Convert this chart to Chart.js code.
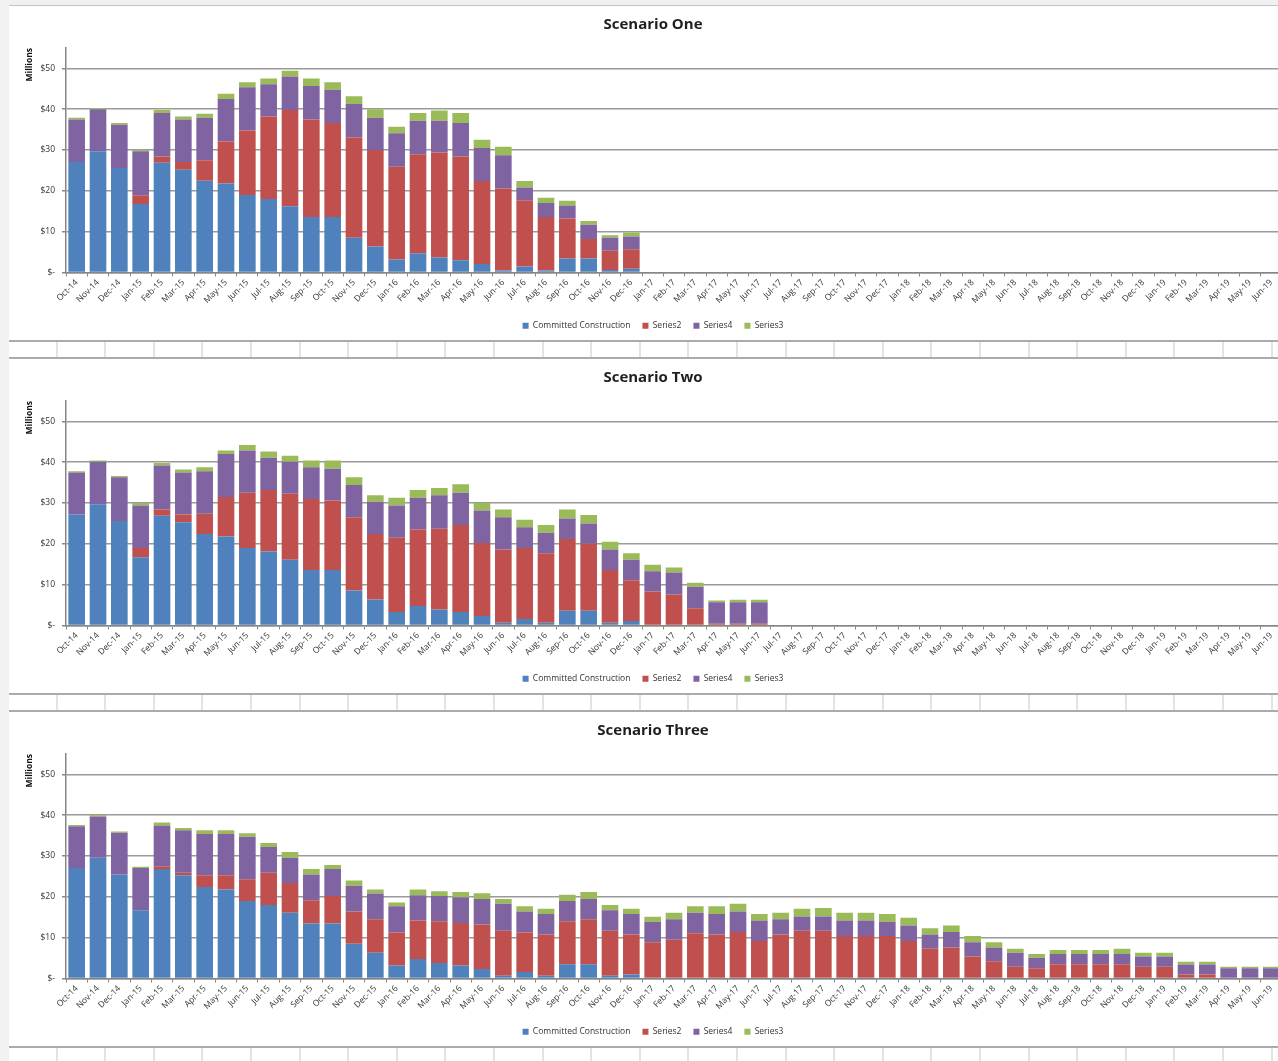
<!DOCTYPE html>
<html>
<head>
<meta charset="utf-8">
<script src="https://cdn.jsdelivr.net/npm/chart.js@4"></script>
<style>
  html, body { margin: 0; padding: 0; width: 1278px; height: 1061px; overflow: hidden; background: #fff; }
  .side { position: absolute; left: 0; top: 0; width: 9px; height: 1061px; background: #f2f2f2; }
  .topbar { position: absolute; left: 9px; top: 0; width: 1269px; height: 5px; background: #f0f0f0; border-bottom: 1px solid #c4c4c4; }
  .strip {
    position: absolute; left: 9px; width: 1269px; box-sizing: border-box;
    border-top: 2px solid #ababab; border-bottom: 2px solid #ababab;
    background: repeating-linear-gradient(to right, #fff 0, #fff 46.6px, #e3e3e3 46.6px, #e3e3e3 48.6px);
  }
  .box { position: absolute; left: 9px; width: 1276px; height: 334px; }
</style>
</head>
<body>
<div class="side"></div>
<div class="topbar"></div>
<div class="box" style="top:6px"><canvas id="chart1" width="1276" height="334"></canvas></div>
<div class="strip" style="top:340px;height:19px"></div>
<div class="box" style="top:359px"><canvas id="chart2" width="1276" height="334"></canvas></div>
<div class="strip" style="top:693px;height:19px"></div>
<div class="box" style="top:712px"><canvas id="chart3" width="1276" height="334"></canvas></div>
<div class="strip" style="top:1046px;height:19px"></div>

<script>
const months = [
  "Oct-14", "Nov-14", "Dec-14",
  "Jan-15", "Feb-15", "Mar-15", "Apr-15", "May-15", "Jun-15", "Jul-15", "Aug-15", "Sep-15", "Oct-15", "Nov-15", "Dec-15",
  "Jan-16", "Feb-16", "Mar-16", "Apr-16", "May-16", "Jun-16", "Jul-16", "Aug-16", "Sep-16", "Oct-16", "Nov-16", "Dec-16",
  "Jan-17", "Feb-17", "Mar-17", "Apr-17", "May-17", "Jun-17", "Jul-17", "Aug-17", "Sep-17", "Oct-17", "Nov-17", "Dec-17",
  "Jan-18", "Feb-18", "Mar-18", "Apr-18", "May-18", "Jun-18", "Jul-18", "Aug-18", "Sep-18", "Oct-18", "Nov-18", "Dec-18",
  "Jan-19", "Feb-19", "Mar-19", "Apr-19", "May-19", "Jun-19"
]

const yTicks = [0, 10, 20, 30, 40, 50]

// Scenario One
const s1Committed = [27.1, 29.7, 25.6, 16.8, 26.9, 25.2, 22.5, 21.8, 19.0, 18.0, 16.2, 13.6, 13.6, 8.5, 6.4,
  3.2, 4.7, 3.7, 3.0, 2.1, 0.5, 1.5, 0.5, 3.4, 3.4, 0.6, 0.9,
  0, 0, 0, 0, 0, 0, 0, 0, 0, 0, 0, 0, 0, 0, 0, 0, 0, 0, 0, 0, 0, 0, 0, 0, 0, 0, 0, 0, 0, 0]
const s1Series2 = [0, 0, 0, 2.1, 1.5, 1.9, 5.0, 10.3, 15.8, 20.2, 23.6, 23.9, 23.0, 24.6, 23.6,
  22.7, 24.3, 25.7, 25.4, 20.3, 20.1, 16.2, 13.1, 9.8, 4.8, 4.7, 4.8,
  0, 0, 0, 0, 0, 0, 0, 0, 0, 0, 0, 0, 0, 0, 0, 0, 0, 0, 0, 0, 0, 0, 0, 0, 0, 0, 0, 0, 0, 0]
const s1Series4 = [10.4, 10.3, 10.6, 10.8, 10.7, 10.4, 10.4, 10.4, 10.6, 7.9, 8.2, 8.2, 8.2, 8.2, 7.9,
  8.2, 8.2, 7.8, 8.2, 8.1, 8.1, 3.1, 3.4, 3.2, 3.5, 3.2, 3.1,
  0, 0, 0, 0, 0, 0, 0, 0, 0, 0, 0, 0, 0, 0, 0, 0, 0, 0, 0, 0, 0, 0, 0, 0, 0, 0, 0, 0, 0, 0]
const s1Series3 = [0.4, 0.3, 0.4, 0.4, 0.7, 0.7, 1.0, 1.3, 1.2, 1.4, 1.4, 1.8, 1.8, 1.9, 2.1,
  1.6, 1.9, 2.5, 2.5, 2.0, 2.1, 1.6, 1.3, 1.2, 0.9, 0.6, 1.0,
  0, 0, 0, 0, 0, 0, 0, 0, 0, 0, 0, 0, 0, 0, 0, 0, 0, 0, 0, 0, 0, 0, 0, 0, 0, 0, 0, 0, 0, 0]

// Scenario Two
const s2Committed = [27.2, 29.7, 25.6, 16.7, 26.9, 25.3, 22.4, 21.8, 19.0, 18.1, 16.1, 13.6, 13.6, 8.6, 6.4,
  3.3, 4.8, 3.9, 3.3, 2.3, 0.7, 1.6, 0.7, 3.6, 3.6, 0.7, 1.1,
  0, 0, 0, 0, 0, 0, 0, 0, 0, 0, 0, 0, 0, 0, 0, 0, 0, 0, 0, 0, 0, 0, 0, 0, 0, 0, 0, 0, 0, 0]
const s2Series2 = [0, 0, 0, 2.3, 1.5, 1.9, 5.0, 9.7, 13.5, 15.1, 16.2, 17.4, 17.0, 17.9, 16.0,
  18.2, 18.7, 19.8, 21.3, 17.9, 17.9, 17.4, 17.0, 17.6, 16.4, 12.9, 10.0,
  8.3, 7.6, 4.2, 0.4, 0.4, 0.4, 0, 0, 0, 0, 0, 0, 0, 0, 0, 0, 0, 0, 0, 0, 0, 0, 0, 0, 0, 0, 0, 0, 0, 0]
const s2Series4 = [10.3, 10.4, 10.7, 10.4, 10.8, 10.3, 10.4, 10.5, 10.4, 7.9, 7.8, 7.8, 7.8, 7.9, 7.9,
  7.9, 7.8, 8.2, 7.9, 8.0, 7.9, 5.1, 5.0, 5.0, 5.0, 5.0, 5.0,
  5.0, 5.4, 5.3, 5.3, 5.3, 5.3, 0, 0, 0, 0, 0, 0, 0, 0, 0, 0, 0, 0, 0, 0, 0, 0, 0, 0, 0, 0, 0, 0, 0, 0]
const s2Series3 = [0.3, 0.3, 0.3, 0.6, 0.6, 0.7, 1.0, 0.9, 1.3, 1.5, 1.5, 1.6, 2.0, 1.9, 1.6,
  1.9, 1.9, 1.8, 2.1, 1.8, 1.9, 1.8, 1.9, 2.2, 2.1, 1.9, 1.6,
  1.6, 1.2, 1.0, 0.4, 0.6, 0.6, 0, 0, 0, 0, 0, 0, 0, 0, 0, 0, 0, 0, 0, 0, 0, 0, 0, 0, 0, 0, 0, 0, 0, 0]

// Scenario Three
const s3Committed = [27.1, 29.6, 25.5, 16.7, 26.8, 25.3, 22.4, 21.8, 19.0, 18.0, 16.1, 13.5, 13.5, 8.5, 6.3,
  3.2, 4.8, 3.8, 3.2, 2.3, 0.7, 1.6, 0.7, 3.5, 3.5, 0.7, 1.0,
  0, 0, 0, 0, 0, 0, 0, 0, 0, 0, 0, 0, 0, 0, 0, 0, 0, 0, 0, 0, 0, 0, 0, 0, 0, 0, 0, 0, 0, 0]
const s3Series2 = [0, 0, 0, 0, 0.7, 0.6, 2.9, 3.5, 5.3, 7.9, 7.3, 5.7, 6.7, 7.9, 8.2,
  8.1, 9.4, 10.2, 10.4, 10.9, 11.0, 9.7, 10.1, 10.5, 11.0, 11.0, 9.8,
  8.9, 9.5, 11.1, 10.8, 11.4, 9.2, 10.8, 11.7, 11.7, 10.4, 10.4, 10.4,
  9.2, 7.3, 7.6, 5.4, 4.2, 2.9, 2.5, 3.5, 3.5, 3.5, 3.5, 2.9,
  2.9, 1.0, 1.0, 0, 0, 0]
const s3Series4 = [10.2, 10.1, 10.2, 10.4, 10.0, 10.4, 10.1, 10.1, 10.4, 6.3, 6.2, 6.3, 6.6, 6.3, 6.3,
  6.4, 6.2, 6.2, 6.3, 6.3, 6.6, 5.1, 5.0, 5.0, 5.0, 5.0, 5.0,
  5.0, 5.0, 5.0, 5.0, 5.0, 5.0, 3.7, 3.5, 3.5, 3.8, 3.8, 3.5,
  3.8, 3.5, 3.8, 3.5, 3.4, 3.4, 2.6, 2.5, 2.5, 2.5, 2.5, 2.5,
  2.5, 2.4, 2.4, 2.5, 2.5, 2.5]
const s3Series3 = [0.3, 0.3, 0.3, 0.3, 0.7, 0.6, 0.9, 0.9, 0.9, 1.0, 1.4, 1.3, 1.0, 1.3, 1.0,
  0.9, 1.4, 1.2, 1.3, 1.4, 1.2, 1.3, 1.3, 1.5, 1.7, 1.3, 1.3,
  1.2, 1.6, 1.6, 1.9, 1.9, 1.6, 1.6, 1.9, 2.1, 1.9, 1.9, 1.9,
  1.9, 1.5, 1.6, 1.5, 1.3, 1.0, 0.9, 1.0, 1.0, 1.0, 1.3, 0.9,
  0.9, 0.7, 0.7, 0.4, 0.4, 0.4]

Chart.defaults.font.family = "'Open Sans', 'Noto Sans', sans-serif"
Chart.defaults.color = "#333"

const axisGray = "#868686"

function makeChart(id, title, committed, series2, series4, series3) {
  const ctx = document.getElementById(id).getContext("2d")
  new Chart(ctx, {
    type: "bar",
    data: {
      labels: months,
      datasets: [
        { label: "Committed Construction", data: committed, backgroundColor: "#4F81BD" },
        { label: "Series2", data: series2, backgroundColor: "#C0504D" },
        { label: "Series4", data: series4, backgroundColor: "#8064A2" },
        { label: "Series3", data: series3, backgroundColor: "#9BBB59" }
      ]
    },
    options: {
      responsive: false,
      animation: false,
      layout: { padding: { left: 15, right: 3, top: 0, bottom: 0 } },
      datasets: { bar: { categoryPercentage: 1, barPercentage: 0.78 } },
      plugins: {
        title: {
          display: true,
          text: title,
          color: "#1f1f1f",
          font: { size: 15, weight: "bold" },
          padding: { top: 10, bottom: 14 }
        },
        legend: {
          position: "bottom",
          labels: { boxWidth: 6, boxHeight: 6, padding: 12, font: { size: 8.5 }, color: "#333" }
        },
        tooltip: { enabled: false }
      },
      scales: {
        x: {
          stacked: true,
          grid: { display: true, drawOnChartArea: false, offset: true, tickLength: 4, color: axisGray },
          border: { color: axisGray, width: 1.5 },
          ticks: { autoSkip: false, minRotation: 45, maxRotation: 45, padding: 1, font: { size: 8.5 }, color: "#333" },
          afterFit: scale => { scale.height = 37 }
        },
        y: {
          stacked: true,
          min: 0,
          max: 55,
          afterBuildTicks: axis => { axis.ticks = yTicks.map(v => ({ value: v })) },
          ticks: {
            padding: 7,
            font: { size: 8.5 },
            color: "#333",
            callback: v => v === 0 ? "$-" : "$" + v
          },
          grid: { color: "#9a9a9a", lineWidth: 1.5, tickLength: 4, tickColor: axisGray },
          border: { color: axisGray, width: 1.5 },
          title: {
            display: true,
            text: "Millions",
            align: "end",
            color: "#111",
            font: { size: 8.5, weight: "bold" },
            padding: { top: 0, bottom: 4 }
          },
          afterFit: scale => { scale.width = 42 }
        }
      }
    }
  })
}

makeChart("chart1", "Scenario One", s1Committed, s1Series2, s1Series4, s1Series3)
makeChart("chart2", "Scenario Two", s2Committed, s2Series2, s2Series4, s2Series3)
makeChart("chart3", "Scenario Three", s3Committed, s3Series2, s3Series4, s3Series3)
</script>
</body>
</html>
